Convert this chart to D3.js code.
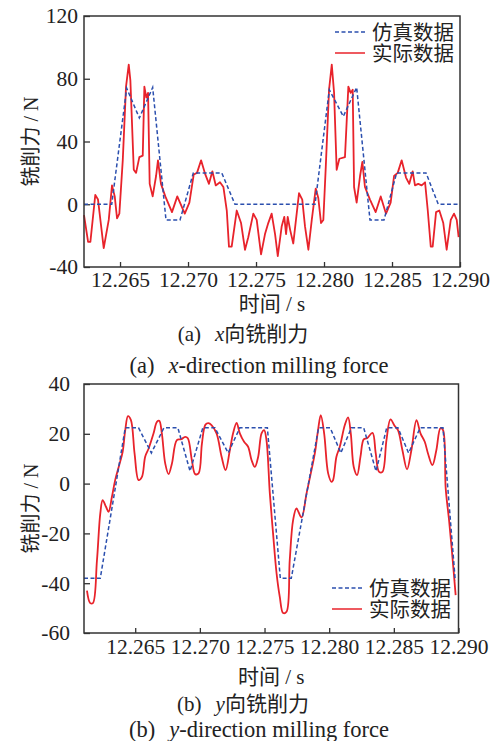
<!doctype html>
<html><head><meta charset="utf-8"/>
<title>x/y milling force</title>
<script src="https://cdn.jsdelivr.net/npm/d3@7"></script>
<style>
  body { margin:0; background:#fff; }
  svg { display:block; }
  text { font-family:"Liberation Serif","Noto Sans CJK SC",serif; fill:#222; }
  .cjk { font-family:"Liberation Serif","Noto Sans CJK SC",sans-serif; }
</style>
</head><body>
<svg id="c" width="502" height="741"></svg>
<script>
// values (time in s, force in N)
const xTicks = [12.265, 12.270, 12.275, 12.280, 12.285, 12.290];
const topYTicks = [-40, 0, 40, 80, 120];
const botYTicks = [-60, -40, -20, 0, 20, 40];
const legendNames = ["仿真数据", "实际数据"];

const topSimT = [12.26235, 12.26439, 12.26549, 12.26642, 12.26740, 12.26838, 12.26941, 12.27039, 12.27248, 12.27345,
  12.27934, 12.28039, 12.28142, 12.28240, 12.28338, 12.28441, 12.28534, 12.28750, 12.28840, 12.29000];
const topSimF = [0, 0, 74, 55, 74.5, -10, -10, 20, 20, 0, 0, 73, 56, 74.5, -10, -10, 20, 20, 0, 0];

const topActT = [12.26235, 12.26265, 12.26282, 12.26318, 12.26338, 12.2638, 12.26417, 12.26441, 12.26461, 12.26478,
  12.26495, 12.2652, 12.26544, 12.26564, 12.26576, 12.26601, 12.26618, 12.26642, 12.26667, 12.26679,
  12.26693, 12.26706, 12.26718, 12.2674, 12.26765, 12.26779, 12.26801, 12.26833, 12.26882, 12.26921,
  12.26976, 12.2701, 12.27042, 12.27066, 12.27096, 12.27127, 12.27154, 12.27179, 12.27204, 12.27235,
  12.2726, 12.27285, 12.27301, 12.27321, 12.27358, 12.2739, 12.27419, 12.27443, 12.2748, 12.27505,
  12.27537, 12.27566, 12.2759, 12.27615, 12.2764, 12.2766, 12.27689, 12.27708, 12.27721, 12.27733,
  12.2775, 12.27774, 12.27799, 12.27816, 12.2784, 12.2786, 12.27885, 12.2791, 12.27939, 12.27958,
  12.27978, 12.27995, 12.28013, 12.28037, 12.28057, 12.28074, 12.28093, 12.28113, 12.28154, 12.28179,
  12.28196, 12.28211, 12.28221, 12.2824, 12.28265, 12.28282, 12.28301, 12.28338, 12.2838, 12.28417,
  12.28456, 12.2849, 12.28515, 12.28542, 12.28571, 12.28603, 12.28627, 12.28652, 12.28669, 12.28693,
  12.28718, 12.28743, 12.28763, 12.28785, 12.28799, 12.28824, 12.28848, 12.28877, 12.28902, 12.28932,
  12.28956, 12.28976, 12.2899];
const topActF = [-7, -24, -24, 6, 3, -28, -10, 12, 5, -9,
  -6, 28, 75, 89, 79, 22, 20, 30, 31, 75,
  68, 71, 13, 5, 18, 28, 13, 5, -5, 5,
  -6, 1, 19, 20, 28, 19, 13, 21, 12, 14,
  11, -4, -27, -27, -4, -12, -29, -21, -6, -10,
  -32, -19, -12, -6, -19, -33, -14, -8, -19, -8,
  -16, -25, -6, 7, 3, -14, -29, -10, 10, 4,
  -12, -10, 24, 73, 89, 71, 22, 29, 30, 75,
  71, 73, 11, 1, 18, 27, 11, 3, -5, 5,
  -6, 1, 18, 20, 28, 17, 13, 21, 12, 13,
  12, 14, -4, -27, -27, -5, -4, -12, -29, -10,
  -6, -10, -21];

const botSimT = [12.26104, 12.2623, 12.26423, 12.26526, 12.26625, 12.26722, 12.2683, 12.26924, 12.27023, 12.27116,
  12.27219, 12.27309, 12.27522, 12.27622, 12.27707, 12.27918, 12.28008, 12.2809, 12.28172, 12.28267,
  12.28362, 12.28445, 12.28532, 12.28614, 12.28704, 12.2888, 12.28975];
const botSimF = [-38, -38, 22.4, 22.4, 12.3, 22.4, 22.4, 5, 22.4, 22.4,
  12.3, 22.4, 22.4, -38, -38, 22.4, 22.4, 12.3, 22.4, 22.4,
  5, 22.4, 22.4, 12.3, 22.4, 22.4, -39];

const botActT = [12.26127, 12.26152, 12.26173, 12.26204, 12.2623, 12.26248, 12.26274, 12.26294, 12.2632, 12.26345,
  12.26376, 12.26403, 12.26423, 12.26444, 12.26467, 12.26495, 12.26526, 12.26552, 12.26577, 12.26604,
  12.26642, 12.26668, 12.26686, 12.26706, 12.26732, 12.26758, 12.26784, 12.26822, 12.26856, 12.26886,
  12.26907, 12.26938, 12.26964, 12.2699, 12.27016, 12.27043, 12.27066, 12.2709, 12.27129, 12.27168,
  12.27199, 12.27232, 12.27257, 12.27284, 12.27309, 12.27342, 12.27373, 12.274, 12.27425, 12.27451,
  12.27477, 12.27497, 12.27515, 12.27541, 12.27566, 12.27593, 12.27618, 12.27644, 12.2767, 12.27695,
  12.27721, 12.27747, 12.27786, 12.27825, 12.27863, 12.27889, 12.27914, 12.27935, 12.27961, 12.27992,
  12.28018, 12.2803, 12.28056, 12.28082, 12.28121, 12.28146, 12.28167, 12.2819, 12.28216, 12.28242,
  12.28267, 12.28293, 12.28335, 12.2836, 12.28386, 12.28412, 12.28443, 12.28474, 12.28507, 12.28532,
  12.28566, 12.28602, 12.28636, 12.28675, 12.28706, 12.28739, 12.28764, 12.28798, 12.28829, 12.2886,
  12.2888, 12.28901, 12.28927, 12.28953, 12.28978];
const botActF = [-43, -48, -48, -31, -12, -6.6, -9.3, -11.3, -5.3, 1.4,
  7.4, 12.8, 21.5, 27.1, 25.5, 12.1, 1.4, 2.7, 10.8, 14.1,
  20.2, 24.8, 25.2, 20.2, 8.1, 3.8, 8.1, 17.5, 17.8, 18.8,
  18.2, 9.4, 3.8, 4.1, 16.1, 23.7, 24.3, 23.5, 20.2, 10.8,
  5.4, 13.5, 20.2, 24.4, 20.2, 16.8, 14.8, 9.4, 6.7, 10.8,
  20.2, 21.5, 17.5, -3.9, -20, -36, -45.5, -52, -51.5, -30.7,
  -14.7, -10, -13.6, -3.9, 5.4, 12.1, 21.5, 27.5, 20.2, 4.1,
  0.7, 1.4, 10.8, 14.8, 23.5, 26.6, 20.2, 6.7, 3.4, 10.8,
  17.8, 18.2, 20.4, 12.1, 4.7, 4.7, 17.5, 25.8, 23.1, 21.5,
  13.5, 5.7, 13.5, 25.5, 20.2, 16.8, 12.1, 7.4, 13.5, 22.2,
  21.5, -1.9, -14.7, -29.4, -44.8];

const RED = "#e8232b", BLUE = "#2b4fae";
const svg = d3.select("#c");

function panel(o) {
  const x = d3.scaleLinear().domain(o.xDomain).range([o.left, o.right]);
  const y = d3.scaleLinear().domain(o.yDomain).range([o.bottom, o.top]);
  const g = svg.append("g");

  g.append("g").attr("transform", `translate(0,${o.bottom})`)
    .call(d3.axisBottom(x).tickValues(xTicks).tickFormat(d3.format(".3f")).tickSize(-5).tickPadding(o.xPad))
    .call(a => a.select(".domain").remove())
    .call(a => a.selectAll("line").attr("stroke", "#333").attr("stroke-width", 1.3))
    .call(a => a.selectAll("text").attr("font-size", 21.5).attr("font-family", "Liberation Serif").attr("fill", "#222"));
  g.append("g").attr("transform", `translate(${o.left},0)`)
    .call(d3.axisLeft(y).tickValues(o.yTicks).tickFormat(d => String(d)).tickSize(-6).tickPadding(o.yPad))
    .call(a => a.select(".domain").remove())
    .call(a => a.selectAll("line").attr("stroke", "#333").attr("stroke-width", 1.3))
    .call(a => a.selectAll("text").attr("font-size", 21.5).attr("font-family", "Liberation Serif").attr("fill", "#222"));

  const act = o.actT.map((t, i) => [t, o.actF[i]]);
  const sim = o.simT.map((t, i) => [t, o.simF[i]]);
  const line = d3.line().x(d => x(d[0])).y(d => y(d[1]));
  g.append("path").datum(act).attr("fill", "none").attr("stroke", RED).attr("stroke-width", 1.8)
    .attr("stroke-linejoin", "round")
    .attr("d", line.curve(o.smooth ? d3.curveCatmullRom.alpha(0.5) : d3.curveLinear));
  g.append("path").datum(sim).attr("fill", "none").attr("stroke", BLUE).attr("stroke-width", 1.5)
    .attr("stroke-dasharray", "4,2.5")
    .attr("d", d3.line().x(d => x(d[0])).y(d => y(d[1])));

  g.append("rect").attr("x", o.left).attr("y", o.top).attr("width", o.right - o.left).attr("height", o.bottom - o.top)
    .attr("fill", "none").attr("stroke", "#333").attr("stroke-width", 1.5);

  // legend
  const lg = g.append("g").attr("transform", `translate(${o.legX},${o.legY})`);
  legendNames.forEach((n, i) => {
    lg.append("line").attr("x1", 0).attr("x2", 30).attr("y1", i * 21).attr("y2", i * 21)
      .attr("stroke", i === 0 ? BLUE : RED).attr("stroke-width", 1.5)
      .attr("stroke-dasharray", i === 0 ? "4,2.5" : null);
    lg.append("text").attr("class", "cjk").attr("x", 37).attr("y", i * 21 + 7.5)
      .attr("font-size", 20.5).text(n);
  });

  // axis titles and captions
  g.append("text").attr("class", "cjk").attr("transform", `translate(${o.yLabX},${(o.top + o.bottom) / 2}) rotate(-90)`)
    .attr("text-anchor", "middle").attr("font-size", 20).text("铣削力 / N");
  g.append("text").attr("class", "cjk").attr("x", (o.left + o.right) / 2).attr("y", o.xLabY)
    .attr("text-anchor", "middle").attr("font-size", 21).text("时间 / s");
  const c1 = g.append("text").attr("class", "cjk").attr("x", 243).attr("y", o.cap1Y)
    .attr("text-anchor", "middle").attr("font-size", 21);
  c1.append("tspan").text(o.tag);
  c1.append("tspan").attr("dx", 14).attr("font-style", "italic").text(o.axisName);
  c1.append("tspan").text("向铣削力");
  const c2 = g.append("text").attr("x", 259).attr("y", o.cap2Y)
    .attr("text-anchor", "middle").attr("font-size", 22.5).attr("font-family", "Liberation Serif");
  c2.append("tspan").text(o.tag);
  c2.append("tspan").attr("dx", 14).attr("font-style", "italic").text(o.axisName);
  c2.append("tspan").text("-direction milling force");
}

panel({
  left: 84, right: 460, top: 16, bottom: 267,
  xDomain: [12.26235, 12.290], yDomain: [-40, 120], yTicks: topYTicks,
  simT: topSimT, simF: topSimF, actT: topActT, actF: topActF, smooth: false,
  xPad: 5, yPad: 6, legX: 335, legY: 32, yLabX: 38, xLabY: 311,
  cap1Y: 341, cap2Y: 373, tag: "(a)", axisName: "x"
});
panel({
  left: 84, right: 458.5, top: 384, bottom: 633,
  xDomain: [12.26104, 12.290], yDomain: [-60, 40], yTicks: botYTicks,
  simT: botSimT, simF: botSimF, actT: botActT, actF: botActF, smooth: true,
  xPad: 6, yPad: 14, legX: 332, legY: 588, yLabX: 38, xLabY: 684,
  cap1Y: 711, cap2Y: 737, tag: "(b)", axisName: "y"
});
</script>
</body></html>
